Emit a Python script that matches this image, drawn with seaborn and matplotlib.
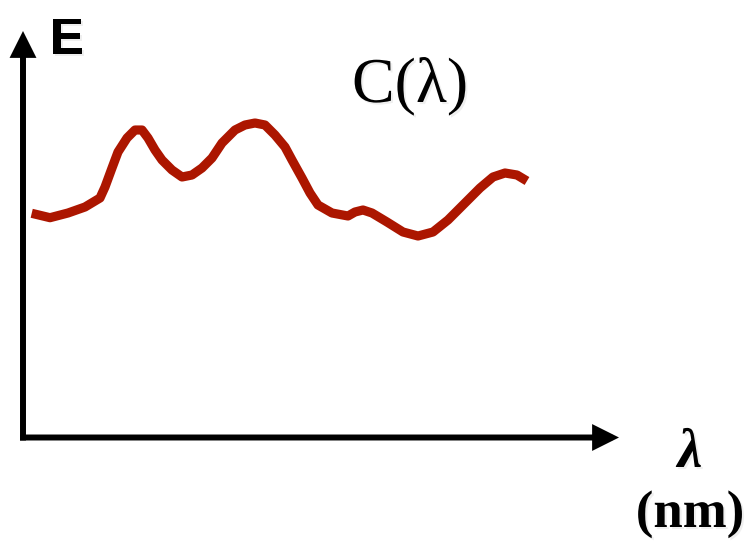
import matplotlib
matplotlib.use("Agg")
import matplotlib.pyplot as plt
import matplotlib.patheffects as pe
import seaborn as sns
import pandas as pd

sns.set_theme(style="white")

# Spectral power curve C(lambda), arbitrary units along both axes
lam = [8.7, 27, 45, 62, 77, 82, 89, 95, 104, 112, 119, 125, 132, 139, 149, 159,
       169, 179, 189, 199, 212, 222, 232, 242, 252, 262, 269, 279, 287, 295,
       309, 325, 332, 340, 349, 364, 380, 395, 410, 425, 440, 457, 470, 482,
       494, 504]
energy = [224.2, 219.8, 224.5, 230.5, 239.5, 250.5, 269.5, 285.5, 299.5, 307.5,
          307.5, 299.5, 287.5, 277.5, 267.5, 260.5, 262.5, 269.5, 279.5, 294.5,
          307.5, 312.5, 314.5, 312.5, 302.5, 290.5, 277.5, 259.5, 244.5, 232.5,
          224.5, 221.5, 225.5, 227.5, 224.5, 215.5, 205.5, 201.5, 205.5, 217.5,
          232.5, 249.5, 260.5, 264.5, 262.5, 256.5]
x_max = 596
y_max = 406.5

curve_label = "C(λ)"
y_label = "E"
x_label = "λ"
x_unit = "(nm)"

df = pd.DataFrame({"lam": lam, "energy": energy})

W, H = 747, 541
fig = plt.figure(figsize=(W / 100, H / 100), dpi=100)
ax = fig.add_axes([23 / W, (H - 437.5) / H, (619 - 23) / W, (437.5 - 31) / H])
ax.set_xlim(0, x_max)
ax.set_ylim(0, y_max)
ax.axis("off")

sns.lineplot(data=df, x="lam", y="energy", ax=ax, color="#AC1600",
             linewidth=6.6, estimator=None, sort=False)
for ln in ax.lines:
    ln.set_solid_capstyle("butt")
    ln.set_solid_joinstyle("round")

# Axis arrows
arrow = dict(arrowstyle="-|>,head_length=0.62,head_width=0.31", lw=4.3,
             color="black", mutation_scale=20, shrinkA=0, shrinkB=0,
             joinstyle="miter", capstyle="butt")
ax.annotate("", xy=(x_max, 0), xytext=(-3, 0), arrowprops=arrow,
            annotation_clip=False)
ax.annotate("", xy=(0, y_max), xytext=(0, -3), arrowprops=arrow,
            annotation_clip=False)

shadow = [pe.SimplePatchShadow(offset=(1.5, -1.5), alpha=0.12, shadow_rgbFace="gray"),
          pe.Normal()]


def put(txt, x, y, **kw):
    fig.text(x / W, 1 - y / H, txt, ha="center", va="baseline",
             path_effects=shadow, color="black", **kw)


put(y_label, 67, 54, family="Liberation Sans", weight="bold", fontsize=37)
put(curve_label, 410, 102, family="Liberation Serif", fontsize=46)
put(x_label, 690, 467, family="Liberation Serif", weight="bold",
    style="italic", fontsize=40)
put(x_unit, 690, 527, family="Liberation Serif", weight="bold", fontsize=38)

fig.savefig("out.png", dpi=100)
